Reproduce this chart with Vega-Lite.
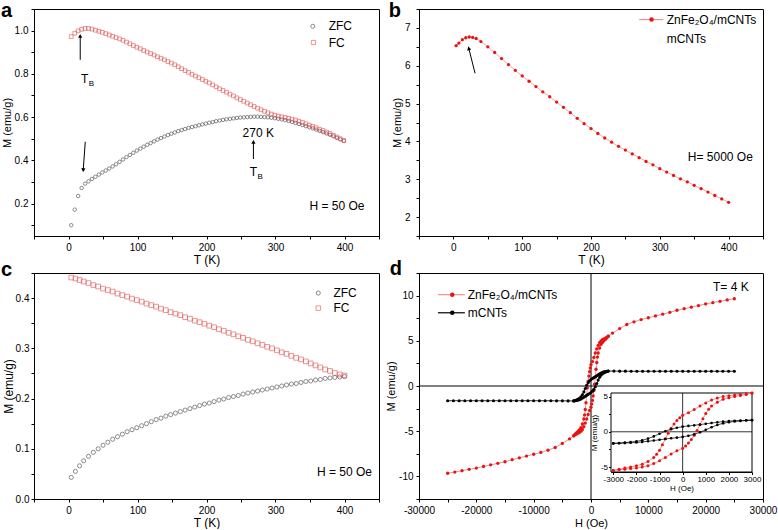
{
"$schema": "https://vega.github.io/schema/vega-lite/v6.json",
"background": "white",
"padding": {"left": 0, "top": 0, "right": 0, "bottom": 0},
"config": {
 "font": "Liberation Sans",
 "view": {"stroke": "#000", "strokeWidth": 1},
 "axis": {"grid": false, "domainColor": "#000", "tickColor": "#000", "labelColor": "#000", "titleColor": "#000", "labelFontSize": 10, "titleFontSize": 12, "titleFontWeight": "normal", "tickSize": 3, "labelPadding": 3, "titlePadding": 2, "labelFlush": false, "labelOverlap": false, "tickCount": 100},
 "text": {"font": "Liberation Sans", "fontSize": 12, "color": "#000"},
 "locale": {"number": {"decimal": ".", "thousands": ",", "grouping": [3], "currency": ["$", ""], "minus": "-"}}
},
"datasets": {
 "a": [
{"T":4,"M":0.1,"s":"ZFC"},{"T":9,"M":0.172,"s":"ZFC"},{"T":14,"M":0.235,"s":"ZFC"},{"T":19,"M":0.272,"s":"ZFC"},{"T":24,"M":0.292,"s":"ZFC"},{"T":29,"M":0.303,"s":"ZFC"},{"T":34,"M":0.314,"s":"ZFC"},{"T":39,"M":0.324,"s":"ZFC"},{"T":44,"M":0.334,"s":"ZFC"},{"T":49,"M":0.344,"s":"ZFC"},{"T":54,"M":0.353,"s":"ZFC"},{"T":59,"M":0.362,"s":"ZFC"},{"T":64,"M":0.372,"s":"ZFC"},{"T":69,"M":0.382,"s":"ZFC"},{"T":74,"M":0.393,"s":"ZFC"},{"T":79,"M":0.404,"s":"ZFC"},{"T":84,"M":0.415,"s":"ZFC"},{"T":89,"M":0.425,"s":"ZFC"},{"T":94,"M":0.435,"s":"ZFC"},{"T":99,"M":0.445,"s":"ZFC"},{"T":104,"M":0.454,"s":"ZFC"},{"T":109,"M":0.463,"s":"ZFC"},{"T":114,"M":0.472,"s":"ZFC"},{"T":119,"M":0.48,"s":"ZFC"},{"T":124,"M":0.488,"s":"ZFC"},{"T":129,"M":0.496,"s":"ZFC"},{"T":134,"M":0.503,"s":"ZFC"},{"T":139,"M":0.51,"s":"ZFC"},{"T":144,"M":0.517,"s":"ZFC"},{"T":149,"M":0.523,"s":"ZFC"},{"T":154,"M":0.529,"s":"ZFC"},{"T":159,"M":0.535,"s":"ZFC"},{"T":164,"M":0.54,"s":"ZFC"},{"T":169,"M":0.545,"s":"ZFC"},{"T":174,"M":0.55,"s":"ZFC"},{"T":179,"M":0.554,"s":"ZFC"},{"T":184,"M":0.558,"s":"ZFC"},{"T":189,"M":0.562,"s":"ZFC"},{"T":194,"M":0.566,"s":"ZFC"},{"T":199,"M":0.57,"s":"ZFC"},{"T":204,"M":0.574,"s":"ZFC"},{"T":209,"M":0.577,"s":"ZFC"},{"T":214,"M":0.581,"s":"ZFC"},{"T":219,"M":0.584,"s":"ZFC"},{"T":224,"M":0.587,"s":"ZFC"},{"T":229,"M":0.59,"s":"ZFC"},{"T":234,"M":0.592,"s":"ZFC"},{"T":239,"M":0.594,"s":"ZFC"},{"T":244,"M":0.596,"s":"ZFC"},{"T":249,"M":0.598,"s":"ZFC"},{"T":254,"M":0.599,"s":"ZFC"},{"T":259,"M":0.6,"s":"ZFC"},{"T":264,"M":0.601,"s":"ZFC"},{"T":269,"M":0.602,"s":"ZFC"},{"T":274,"M":0.602,"s":"ZFC"},{"T":279,"M":0.601,"s":"ZFC"},{"T":284,"M":0.6,"s":"ZFC"},{"T":289,"M":0.599,"s":"ZFC"},{"T":294,"M":0.597,"s":"ZFC"},{"T":299,"M":0.595,"s":"ZFC"},{"T":304,"M":0.592,"s":"ZFC"},{"T":309,"M":0.589,"s":"ZFC"},{"T":314,"M":0.586,"s":"ZFC"},{"T":319,"M":0.582,"s":"ZFC"},{"T":324,"M":0.578,"s":"ZFC"},{"T":329,"M":0.573,"s":"ZFC"},{"T":334,"M":0.568,"s":"ZFC"},{"T":339,"M":0.563,"s":"ZFC"},{"T":344,"M":0.558,"s":"ZFC"},{"T":349,"M":0.553,"s":"ZFC"},{"T":354,"M":0.548,"s":"ZFC"},{"T":359,"M":0.542,"s":"ZFC"},{"T":364,"M":0.536,"s":"ZFC"},{"T":369,"M":0.53,"s":"ZFC"},{"T":374,"M":0.524,"s":"ZFC"},{"T":379,"M":0.518,"s":"ZFC"},{"T":384,"M":0.511,"s":"ZFC"},{"T":389,"M":0.504,"s":"ZFC"},{"T":394,"M":0.497,"s":"ZFC"},{"T":399,"M":0.49,"s":"ZFC"},
{"T":4,"M":0.972,"s":"FC"},{"T":9,"M":0.988,"s":"FC"},{"T":14,"M":0.999,"s":"FC"},{"T":19,"M":1.006,"s":"FC"},{"T":24,"M":1.01,"s":"FC"},{"T":29,"M":1.01,"s":"FC"},{"T":34,"M":1.007,"s":"FC"},{"T":39,"M":1.002,"s":"FC"},{"T":44,"M":0.997,"s":"FC"},{"T":49,"M":0.992,"s":"FC"},{"T":54,"M":0.986,"s":"FC"},{"T":59,"M":0.98,"s":"FC"},{"T":64,"M":0.974,"s":"FC"},{"T":69,"M":0.968,"s":"FC"},{"T":74,"M":0.962,"s":"FC"},{"T":79,"M":0.955,"s":"FC"},{"T":84,"M":0.947,"s":"FC"},{"T":89,"M":0.939,"s":"FC"},{"T":94,"M":0.931,"s":"FC"},{"T":99,"M":0.923,"s":"FC"},{"T":104,"M":0.916,"s":"FC"},{"T":109,"M":0.908,"s":"FC"},{"T":114,"M":0.901,"s":"FC"},{"T":119,"M":0.894,"s":"FC"},{"T":124,"M":0.887,"s":"FC"},{"T":129,"M":0.879,"s":"FC"},{"T":134,"M":0.872,"s":"FC"},{"T":139,"M":0.865,"s":"FC"},{"T":144,"M":0.857,"s":"FC"},{"T":149,"M":0.85,"s":"FC"},{"T":154,"M":0.842,"s":"FC"},{"T":159,"M":0.833,"s":"FC"},{"T":164,"M":0.824,"s":"FC"},{"T":169,"M":0.815,"s":"FC"},{"T":174,"M":0.807,"s":"FC"},{"T":179,"M":0.798,"s":"FC"},{"T":184,"M":0.79,"s":"FC"},{"T":189,"M":0.782,"s":"FC"},{"T":194,"M":0.774,"s":"FC"},{"T":199,"M":0.766,"s":"FC"},{"T":204,"M":0.758,"s":"FC"},{"T":209,"M":0.749,"s":"FC"},{"T":214,"M":0.74,"s":"FC"},{"T":219,"M":0.731,"s":"FC"},{"T":224,"M":0.723,"s":"FC"},{"T":229,"M":0.715,"s":"FC"},{"T":234,"M":0.706,"s":"FC"},{"T":239,"M":0.698,"s":"FC"},{"T":244,"M":0.689,"s":"FC"},{"T":249,"M":0.681,"s":"FC"},{"T":254,"M":0.673,"s":"FC"},{"T":259,"M":0.665,"s":"FC"},{"T":264,"M":0.657,"s":"FC"},{"T":269,"M":0.649,"s":"FC"},{"T":274,"M":0.641,"s":"FC"},{"T":279,"M":0.634,"s":"FC"},{"T":284,"M":0.627,"s":"FC"},{"T":289,"M":0.62,"s":"FC"},{"T":294,"M":0.614,"s":"FC"},{"T":299,"M":0.609,"s":"FC"},{"T":304,"M":0.605,"s":"FC"},{"T":309,"M":0.601,"s":"FC"},{"T":314,"M":0.598,"s":"FC"},{"T":319,"M":0.594,"s":"FC"},{"T":324,"M":0.59,"s":"FC"},{"T":329,"M":0.586,"s":"FC"},{"T":334,"M":0.581,"s":"FC"},{"T":339,"M":0.575,"s":"FC"},{"T":344,"M":0.569,"s":"FC"},{"T":349,"M":0.563,"s":"FC"},{"T":354,"M":0.557,"s":"FC"},{"T":359,"M":0.551,"s":"FC"},{"T":364,"M":0.544,"s":"FC"},{"T":369,"M":0.538,"s":"FC"},{"T":374,"M":0.531,"s":"FC"},{"T":379,"M":0.524,"s":"FC"},{"T":384,"M":0.516,"s":"FC"},{"T":389,"M":0.508,"s":"FC"},{"T":394,"M":0.5,"s":"FC"},{"T":399,"M":0.492,"s":"FC"}
 ],
 "b": [
{"T":4,"M":6.53},{"T":8,"M":6.6},{"T":13,"M":6.69},{"T":18,"M":6.74},{"T":23,"M":6.76},{"T":28,"M":6.75},{"T":33,"M":6.72},{"T":40,"M":6.64},{"T":50,"M":6.5},{"T":60,"M":6.35},{"T":70,"M":6.19},{"T":80,"M":6.03},{"T":90,"M":5.88},{"T":100,"M":5.73},{"T":110,"M":5.59},{"T":120,"M":5.45},{"T":130,"M":5.31},{"T":140,"M":5.18},{"T":150,"M":5.04},{"T":160,"M":4.9},{"T":170,"M":4.76},{"T":180,"M":4.61},{"T":190,"M":4.47},{"T":200,"M":4.34},{"T":210,"M":4.21},{"T":220,"M":4.09},{"T":230,"M":3.98},{"T":240,"M":3.87},{"T":250,"M":3.77},{"T":260,"M":3.67},{"T":270,"M":3.57},{"T":280,"M":3.47},{"T":290,"M":3.38},{"T":300,"M":3.28},{"T":310,"M":3.19},{"T":320,"M":3.1},{"T":330,"M":3.01},{"T":340,"M":2.93},{"T":350,"M":2.84},{"T":360,"M":2.75},{"T":370,"M":2.66},{"T":380,"M":2.57},{"T":390,"M":2.48},{"T":400,"M":2.39}
 ],
 "c": [
{"T":4,"M":0.043,"s":"ZFC"},{"T":10,"M":0.055,"s":"ZFC"},{"T":16,"M":0.066,"s":"ZFC"},{"T":22,"M":0.076,"s":"ZFC"},{"T":29,"M":0.085,"s":"ZFC"},{"T":36,"M":0.093,"s":"ZFC"},{"T":43,"M":0.1,"s":"ZFC"},{"T":50,"M":0.107,"s":"ZFC"},{"T":57,"M":0.113,"s":"ZFC"},{"T":64,"M":0.119,"s":"ZFC"},{"T":71,"M":0.124,"s":"ZFC"},{"T":78,"M":0.129,"s":"ZFC"},{"T":85,"M":0.134,"s":"ZFC"},{"T":92,"M":0.138,"s":"ZFC"},{"T":99,"M":0.142,"s":"ZFC"},{"T":106,"M":0.146,"s":"ZFC"},{"T":113,"M":0.15,"s":"ZFC"},{"T":120,"M":0.154,"s":"ZFC"},{"T":127,"M":0.158,"s":"ZFC"},{"T":134,"M":0.161,"s":"ZFC"},{"T":141,"M":0.165,"s":"ZFC"},{"T":148,"M":0.168,"s":"ZFC"},{"T":155,"M":0.171,"s":"ZFC"},{"T":162,"M":0.174,"s":"ZFC"},{"T":169,"M":0.177,"s":"ZFC"},{"T":176,"M":0.18,"s":"ZFC"},{"T":183,"M":0.183,"s":"ZFC"},{"T":190,"M":0.186,"s":"ZFC"},{"T":197,"M":0.189,"s":"ZFC"},{"T":204,"M":0.191,"s":"ZFC"},{"T":211,"M":0.194,"s":"ZFC"},{"T":218,"M":0.197,"s":"ZFC"},{"T":225,"M":0.199,"s":"ZFC"},{"T":232,"M":0.202,"s":"ZFC"},{"T":239,"M":0.204,"s":"ZFC"},{"T":246,"M":0.206,"s":"ZFC"},{"T":253,"M":0.209,"s":"ZFC"},{"T":260,"M":0.211,"s":"ZFC"},{"T":267,"M":0.213,"s":"ZFC"},{"T":274,"M":0.215,"s":"ZFC"},{"T":281,"M":0.217,"s":"ZFC"},{"T":288,"M":0.219,"s":"ZFC"},{"T":295,"M":0.221,"s":"ZFC"},{"T":302,"M":0.223,"s":"ZFC"},{"T":309,"M":0.225,"s":"ZFC"},{"T":316,"M":0.227,"s":"ZFC"},{"T":323,"M":0.229,"s":"ZFC"},{"T":330,"M":0.23,"s":"ZFC"},{"T":337,"M":0.232,"s":"ZFC"},{"T":344,"M":0.234,"s":"ZFC"},{"T":351,"M":0.235,"s":"ZFC"},{"T":358,"M":0.237,"s":"ZFC"},{"T":365,"M":0.238,"s":"ZFC"},{"T":372,"M":0.24,"s":"ZFC"},{"T":379,"M":0.241,"s":"ZFC"},{"T":386,"M":0.242,"s":"ZFC"},{"T":393,"M":0.243,"s":"ZFC"},{"T":400,"M":0.244,"s":"ZFC"},
{"T":4,"M":0.441,"s":"FC"},{"T":10,"M":0.439,"s":"FC"},{"T":16,"M":0.436,"s":"FC"},{"T":22,"M":0.433,"s":"FC"},{"T":29,"M":0.43,"s":"FC"},{"T":36,"M":0.426,"s":"FC"},{"T":43,"M":0.423,"s":"FC"},{"T":50,"M":0.419,"s":"FC"},{"T":57,"M":0.416,"s":"FC"},{"T":64,"M":0.413,"s":"FC"},{"T":71,"M":0.409,"s":"FC"},{"T":78,"M":0.406,"s":"FC"},{"T":85,"M":0.403,"s":"FC"},{"T":92,"M":0.399,"s":"FC"},{"T":99,"M":0.396,"s":"FC"},{"T":106,"M":0.393,"s":"FC"},{"T":113,"M":0.389,"s":"FC"},{"T":120,"M":0.386,"s":"FC"},{"T":127,"M":0.383,"s":"FC"},{"T":134,"M":0.379,"s":"FC"},{"T":141,"M":0.376,"s":"FC"},{"T":148,"M":0.372,"s":"FC"},{"T":155,"M":0.369,"s":"FC"},{"T":162,"M":0.366,"s":"FC"},{"T":169,"M":0.362,"s":"FC"},{"T":176,"M":0.359,"s":"FC"},{"T":183,"M":0.355,"s":"FC"},{"T":190,"M":0.352,"s":"FC"},{"T":197,"M":0.349,"s":"FC"},{"T":204,"M":0.345,"s":"FC"},{"T":211,"M":0.342,"s":"FC"},{"T":218,"M":0.338,"s":"FC"},{"T":225,"M":0.335,"s":"FC"},{"T":232,"M":0.331,"s":"FC"},{"T":239,"M":0.328,"s":"FC"},{"T":246,"M":0.324,"s":"FC"},{"T":253,"M":0.321,"s":"FC"},{"T":260,"M":0.317,"s":"FC"},{"T":267,"M":0.314,"s":"FC"},{"T":274,"M":0.31,"s":"FC"},{"T":281,"M":0.307,"s":"FC"},{"T":288,"M":0.303,"s":"FC"},{"T":295,"M":0.3,"s":"FC"},{"T":302,"M":0.296,"s":"FC"},{"T":309,"M":0.292,"s":"FC"},{"T":316,"M":0.289,"s":"FC"},{"T":323,"M":0.285,"s":"FC"},{"T":330,"M":0.281,"s":"FC"},{"T":337,"M":0.278,"s":"FC"},{"T":344,"M":0.274,"s":"FC"},{"T":351,"M":0.27,"s":"FC"},{"T":358,"M":0.266,"s":"FC"},{"T":365,"M":0.262,"s":"FC"},{"T":372,"M":0.258,"s":"FC"},{"T":379,"M":0.255,"s":"FC"},{"T":386,"M":0.251,"s":"FC"},{"T":393,"M":0.248,"s":"FC"},{"T":400,"M":0.246,"s":"FC"}
 ],
 "d": [
{"H":25000,"M":9.65,"s":"ZnFe2O4","b":"down"},{"H":23750,"M":9.52,"s":"ZnFe2O4","b":"down"},{"H":22500,"M":9.37,"s":"ZnFe2O4","b":"down"},{"H":21250,"M":9.22,"s":"ZnFe2O4","b":"down"},{"H":20000,"M":9.08,"s":"ZnFe2O4","b":"down"},{"H":18750,"M":8.9,"s":"ZnFe2O4","b":"down"},{"H":17500,"M":8.72,"s":"ZnFe2O4","b":"down"},{"H":16250,"M":8.55,"s":"ZnFe2O4","b":"down"},{"H":15000,"M":8.38,"s":"ZnFe2O4","b":"down"},{"H":13750,"M":8.15,"s":"ZnFe2O4","b":"down"},{"H":12500,"M":7.95,"s":"ZnFe2O4","b":"down"},{"H":11250,"M":7.75,"s":"ZnFe2O4","b":"down"},{"H":10000,"M":7.55,"s":"ZnFe2O4","b":"down"},{"H":8750,"M":7.35,"s":"ZnFe2O4","b":"down"},{"H":7500,"M":7.1,"s":"ZnFe2O4","b":"down"},{"H":6250,"M":6.8,"s":"ZnFe2O4","b":"down"},{"H":5000,"M":6.35,"s":"ZnFe2O4","b":"down"},{"H":3750,"M":5.85,"s":"ZnFe2O4","b":"down"},
{"H":3000,"M":5.5,"s":"ZnFe2O4","b":"down"},{"H":2750,"M":5.38,"s":"ZnFe2O4","b":"down"},{"H":2500,"M":5.3,"s":"ZnFe2O4","b":"down"},{"H":2250,"M":5.22,"s":"ZnFe2O4","b":"down"},{"H":2000,"M":5.12,"s":"ZnFe2O4","b":"down"},{"H":1750,"M":5.0,"s":"ZnFe2O4","b":"down"},{"H":1500,"M":4.8,"s":"ZnFe2O4","b":"down"},{"H":1250,"M":4.5,"s":"ZnFe2O4","b":"down"},{"H":1000,"M":4.1,"s":"ZnFe2O4","b":"down"},{"H":750,"M":3.65,"s":"ZnFe2O4","b":"down"},{"H":500,"M":3.15,"s":"ZnFe2O4","b":"down"},{"H":250,"M":2.7,"s":"ZnFe2O4","b":"down"},{"H":0,"M":2.35,"s":"ZnFe2O4","b":"down"},{"H":-125,"M":2.0,"s":"ZnFe2O4","b":"down"},{"H":-250,"M":1.6,"s":"ZnFe2O4","b":"down"},{"H":-375,"M":1.1,"s":"ZnFe2O4","b":"down"},{"H":-500,"M":0.5,"s":"ZnFe2O4","b":"down"},{"H":-625,"M":-0.2,"s":"ZnFe2O4","b":"down"},{"H":-750,"M":-1.0,"s":"ZnFe2O4","b":"down"},{"H":-875,"M":-1.85,"s":"ZnFe2O4","b":"down"},{"H":-1000,"M":-2.6,"s":"ZnFe2O4","b":"down"},{"H":-1125,"M":-3.2,"s":"ZnFe2O4","b":"down"},{"H":-1250,"M":-3.65,"s":"ZnFe2O4","b":"down"},{"H":-1500,"M":-4.2,"s":"ZnFe2O4","b":"down"},{"H":-1750,"M":-4.6,"s":"ZnFe2O4","b":"down"},{"H":-2000,"M":-4.82,"s":"ZnFe2O4","b":"down"},{"H":-2250,"M":-5.0,"s":"ZnFe2O4","b":"down"},{"H":-2500,"M":-5.15,"s":"ZnFe2O4","b":"down"},{"H":-2750,"M":-5.3,"s":"ZnFe2O4","b":"down"},{"H":-3000,"M":-5.5,"s":"ZnFe2O4","b":"down"},
{"H":-3750,"M":-5.85,"s":"ZnFe2O4","b":"down"},{"H":-5000,"M":-6.35,"s":"ZnFe2O4","b":"down"},{"H":-6250,"M":-6.8,"s":"ZnFe2O4","b":"down"},{"H":-7500,"M":-7.1,"s":"ZnFe2O4","b":"down"},{"H":-8750,"M":-7.35,"s":"ZnFe2O4","b":"down"},{"H":-10000,"M":-7.55,"s":"ZnFe2O4","b":"down"},{"H":-11250,"M":-7.75,"s":"ZnFe2O4","b":"down"},{"H":-12500,"M":-7.95,"s":"ZnFe2O4","b":"down"},{"H":-13750,"M":-8.15,"s":"ZnFe2O4","b":"down"},{"H":-15000,"M":-8.38,"s":"ZnFe2O4","b":"down"},{"H":-16250,"M":-8.55,"s":"ZnFe2O4","b":"down"},{"H":-17500,"M":-8.72,"s":"ZnFe2O4","b":"down"},{"H":-18750,"M":-8.9,"s":"ZnFe2O4","b":"down"},{"H":-20000,"M":-9.08,"s":"ZnFe2O4","b":"down"},{"H":-21250,"M":-9.22,"s":"ZnFe2O4","b":"down"},{"H":-22500,"M":-9.37,"s":"ZnFe2O4","b":"down"},{"H":-23750,"M":-9.52,"s":"ZnFe2O4","b":"down"},{"H":-25000,"M":-9.65,"s":"ZnFe2O4","b":"down"},
{"H":-3000,"M":-5.5,"s":"ZnFe2O4","b":"up"},{"H":-2750,"M":-5.38,"s":"ZnFe2O4","b":"up"},{"H":-2500,"M":-5.3,"s":"ZnFe2O4","b":"up"},{"H":-2250,"M":-5.22,"s":"ZnFe2O4","b":"up"},{"H":-2000,"M":-5.12,"s":"ZnFe2O4","b":"up"},{"H":-1750,"M":-5.0,"s":"ZnFe2O4","b":"up"},{"H":-1500,"M":-4.8,"s":"ZnFe2O4","b":"up"},{"H":-1250,"M":-4.5,"s":"ZnFe2O4","b":"up"},{"H":-1000,"M":-4.1,"s":"ZnFe2O4","b":"up"},{"H":-750,"M":-3.65,"s":"ZnFe2O4","b":"up"},{"H":-500,"M":-3.15,"s":"ZnFe2O4","b":"up"},{"H":-250,"M":-2.7,"s":"ZnFe2O4","b":"up"},{"H":0,"M":-2.35,"s":"ZnFe2O4","b":"up"},{"H":125,"M":-2.0,"s":"ZnFe2O4","b":"up"},{"H":250,"M":-1.6,"s":"ZnFe2O4","b":"up"},{"H":375,"M":-1.1,"s":"ZnFe2O4","b":"up"},{"H":500,"M":-0.5,"s":"ZnFe2O4","b":"up"},{"H":625,"M":0.2,"s":"ZnFe2O4","b":"up"},{"H":750,"M":1.0,"s":"ZnFe2O4","b":"up"},{"H":875,"M":1.85,"s":"ZnFe2O4","b":"up"},{"H":1000,"M":2.6,"s":"ZnFe2O4","b":"up"},{"H":1125,"M":3.2,"s":"ZnFe2O4","b":"up"},{"H":1250,"M":3.65,"s":"ZnFe2O4","b":"up"},{"H":1500,"M":4.2,"s":"ZnFe2O4","b":"up"},{"H":1750,"M":4.6,"s":"ZnFe2O4","b":"up"},{"H":2000,"M":4.82,"s":"ZnFe2O4","b":"up"},{"H":2250,"M":5.0,"s":"ZnFe2O4","b":"up"},{"H":2500,"M":5.15,"s":"ZnFe2O4","b":"up"},{"H":2750,"M":5.3,"s":"ZnFe2O4","b":"up"},{"H":3000,"M":5.5,"s":"ZnFe2O4","b":"up"},
{"H":25000,"M":1.63,"s":"mCNTs","b":"down"},{"H":24000,"M":1.63,"s":"mCNTs","b":"down"},{"H":23000,"M":1.63,"s":"mCNTs","b":"down"},{"H":22000,"M":1.63,"s":"mCNTs","b":"down"},{"H":21000,"M":1.63,"s":"mCNTs","b":"down"},{"H":20000,"M":1.63,"s":"mCNTs","b":"down"},{"H":19000,"M":1.63,"s":"mCNTs","b":"down"},{"H":18000,"M":1.63,"s":"mCNTs","b":"down"},{"H":17000,"M":1.63,"s":"mCNTs","b":"down"},{"H":16000,"M":1.63,"s":"mCNTs","b":"down"},{"H":15000,"M":1.63,"s":"mCNTs","b":"down"},{"H":14000,"M":1.63,"s":"mCNTs","b":"down"},{"H":13000,"M":1.63,"s":"mCNTs","b":"down"},{"H":12000,"M":1.63,"s":"mCNTs","b":"down"},{"H":11000,"M":1.63,"s":"mCNTs","b":"down"},{"H":10000,"M":1.63,"s":"mCNTs","b":"down"},{"H":9000,"M":1.63,"s":"mCNTs","b":"down"},{"H":8000,"M":1.63,"s":"mCNTs","b":"down"},{"H":7000,"M":1.63,"s":"mCNTs","b":"down"},{"H":6000,"M":1.64,"s":"mCNTs","b":"down"},{"H":5000,"M":1.64,"s":"mCNTs","b":"down"},{"H":4000,"M":1.65,"s":"mCNTs","b":"down"},
{"H":3000,"M":1.65,"s":"mCNTs","b":"down"},{"H":2750,"M":1.63,"s":"mCNTs","b":"down"},{"H":2500,"M":1.6,"s":"mCNTs","b":"down"},{"H":2250,"M":1.56,"s":"mCNTs","b":"down"},{"H":2000,"M":1.52,"s":"mCNTs","b":"down"},{"H":1750,"M":1.44,"s":"mCNTs","b":"down"},{"H":1500,"M":1.34,"s":"mCNTs","b":"down"},{"H":1250,"M":1.24,"s":"mCNTs","b":"down"},{"H":1000,"M":1.13,"s":"mCNTs","b":"down"},{"H":750,"M":1.02,"s":"mCNTs","b":"down"},{"H":500,"M":0.92,"s":"mCNTs","b":"down"},{"H":250,"M":0.83,"s":"mCNTs","b":"down"},{"H":0,"M":0.73,"s":"mCNTs","b":"down"},{"H":-250,"M":0.57,"s":"mCNTs","b":"down"},{"H":-500,"M":0.36,"s":"mCNTs","b":"down"},{"H":-750,"M":0.08,"s":"mCNTs","b":"down"},{"H":-1000,"M":-0.28,"s":"mCNTs","b":"down"},{"H":-1250,"M":-0.65,"s":"mCNTs","b":"down"},{"H":-1500,"M":-0.97,"s":"mCNTs","b":"down"},{"H":-1750,"M":-1.2,"s":"mCNTs","b":"down"},{"H":-2000,"M":-1.36,"s":"mCNTs","b":"down"},{"H":-2250,"M":-1.46,"s":"mCNTs","b":"down"},{"H":-2500,"M":-1.53,"s":"mCNTs","b":"down"},{"H":-2750,"M":-1.6,"s":"mCNTs","b":"down"},{"H":-3000,"M":-1.65,"s":"mCNTs","b":"down"},
{"H":-4000,"M":-1.65,"s":"mCNTs","b":"down"},{"H":-5000,"M":-1.64,"s":"mCNTs","b":"down"},{"H":-6000,"M":-1.64,"s":"mCNTs","b":"down"},{"H":-7000,"M":-1.63,"s":"mCNTs","b":"down"},{"H":-8000,"M":-1.63,"s":"mCNTs","b":"down"},{"H":-9000,"M":-1.63,"s":"mCNTs","b":"down"},{"H":-10000,"M":-1.63,"s":"mCNTs","b":"down"},{"H":-11000,"M":-1.63,"s":"mCNTs","b":"down"},{"H":-12000,"M":-1.63,"s":"mCNTs","b":"down"},{"H":-13000,"M":-1.63,"s":"mCNTs","b":"down"},{"H":-14000,"M":-1.63,"s":"mCNTs","b":"down"},{"H":-15000,"M":-1.63,"s":"mCNTs","b":"down"},{"H":-16000,"M":-1.63,"s":"mCNTs","b":"down"},{"H":-17000,"M":-1.63,"s":"mCNTs","b":"down"},{"H":-18000,"M":-1.63,"s":"mCNTs","b":"down"},{"H":-19000,"M":-1.63,"s":"mCNTs","b":"down"},{"H":-20000,"M":-1.63,"s":"mCNTs","b":"down"},{"H":-21000,"M":-1.63,"s":"mCNTs","b":"down"},{"H":-22000,"M":-1.63,"s":"mCNTs","b":"down"},{"H":-23000,"M":-1.63,"s":"mCNTs","b":"down"},{"H":-24000,"M":-1.63,"s":"mCNTs","b":"down"},{"H":-25000,"M":-1.63,"s":"mCNTs","b":"down"},
{"H":-3000,"M":-1.65,"s":"mCNTs","b":"up"},{"H":-2750,"M":-1.63,"s":"mCNTs","b":"up"},{"H":-2500,"M":-1.6,"s":"mCNTs","b":"up"},{"H":-2250,"M":-1.56,"s":"mCNTs","b":"up"},{"H":-2000,"M":-1.52,"s":"mCNTs","b":"up"},{"H":-1750,"M":-1.44,"s":"mCNTs","b":"up"},{"H":-1500,"M":-1.34,"s":"mCNTs","b":"up"},{"H":-1250,"M":-1.24,"s":"mCNTs","b":"up"},{"H":-1000,"M":-1.13,"s":"mCNTs","b":"up"},{"H":-750,"M":-1.02,"s":"mCNTs","b":"up"},{"H":-500,"M":-0.92,"s":"mCNTs","b":"up"},{"H":-250,"M":-0.83,"s":"mCNTs","b":"up"},{"H":0,"M":-0.73,"s":"mCNTs","b":"up"},{"H":250,"M":-0.57,"s":"mCNTs","b":"up"},{"H":500,"M":-0.36,"s":"mCNTs","b":"up"},{"H":750,"M":-0.08,"s":"mCNTs","b":"up"},{"H":1000,"M":0.28,"s":"mCNTs","b":"up"},{"H":1250,"M":0.65,"s":"mCNTs","b":"up"},{"H":1500,"M":0.97,"s":"mCNTs","b":"up"},{"H":1750,"M":1.2,"s":"mCNTs","b":"up"},{"H":2000,"M":1.36,"s":"mCNTs","b":"up"},{"H":2250,"M":1.46,"s":"mCNTs","b":"up"},{"H":2500,"M":1.53,"s":"mCNTs","b":"up"},{"H":2750,"M":1.6,"s":"mCNTs","b":"up"},{"H":3000,"M":1.65,"s":"mCNTs","b":"up"}
 ]
},
"columns": 2,
"spacing": {"row": 37, "column": 40},
"bounds": "flush",
"concat": [
 {
  "width": 345, "height": 227,
  "layer": [
   {"data": {"name": "a"}, "transform": [{"filter": "datum.s === 'ZFC'"}],
    "mark": {"type": "point", "shape": "circle", "filled": false, "color": "#333333", "strokeWidth": 0.8, "size": 12},
    "encoding": {
     "x": {"field": "T", "type": "quantitative", "scale": {"domain": [-50, 450], "nice": false, "zero": false}, "axis": {"title": "T (K)", "tickCount": 100, "values": [-50,0,50,100,150,200,250,300,350,400,450], "labelExpr": "datum.value % 100 === 0 ? datum.label : ''"}},
     "y": {"field": "M", "type": "quantitative", "scale": {"domain": [0.05, 1.1], "nice": false, "zero": false}, "axis": {"title": "M (emu/g)", "titleFontSize": 11, "tickCount": 100, "values": [0.1,0.2,0.3,0.4,0.5,0.6,0.7,0.8,0.9,1.0,1.1], "format": ".1f", "labelExpr": "round(datum.value*10) % 2 === 0 ? datum.label : ''"}}
    }},
   {"data": {"name": "a"}, "transform": [{"filter": "datum.s === 'FC'"}],
    "mark": {"type": "point", "shape": "square", "filled": false, "color": "#e04444", "strokeWidth": 0.8, "size": 14},
    "encoding": {"x": {"field": "T", "type": "quantitative"}, "y": {"field": "M", "type": "quantitative"}}},
   {"data": {"values": [{"T": 354, "M": 1.02}]},
    "mark": {"type": "point", "shape": "circle", "filled": false, "color": "#333333", "strokeWidth": 0.8, "size": 16},
    "encoding": {"x": {"field": "T", "type": "quantitative"}, "y": {"field": "M", "type": "quantitative"}}},
   {"data": {"values": [{"T": 355, "M": 0.945}]},
    "mark": {"type": "point", "shape": "square", "filled": false, "color": "#e04444", "strokeWidth": 0.8, "size": 18},
    "encoding": {"x": {"field": "T", "type": "quantitative"}, "y": {"field": "M", "type": "quantitative"}}},
   {"data": {"values": [{"T": 377, "M": 1.02, "t": "ZFC"}, {"T": 377, "M": 0.945, "t": "FC"}]},
    "mark": {"type": "text", "align": "left", "baseline": "middle", "fontSize": 12},
    "encoding": {"x": {"field": "T", "type": "quantitative"}, "y": {"field": "M", "type": "quantitative"}, "text": {"field": "t"}}},
   {"data": {"values": [{"T": 17, "M": 0.865, "T2": 17, "M2": 0.98}, {"T": 268, "M": 0.406, "T2": 268, "M2": 0.49}, {"T": 24.3, "M": 0.486, "T2": 21.2, "M2": 0.35}]},
    "mark": {"type": "rule", "color": "#000", "strokeWidth": 1},
    "encoding": {"x": {"field": "T", "type": "quantitative"}, "y": {"field": "M", "type": "quantitative"}, "x2": {"field": "T2"}, "y2": {"field": "M2"}}},
   {"data": {"values": [{"T": 17, "M": 0.975}, {"T": 268, "M": 0.485}]},
    "mark": {"type": "point", "shape": "triangle-up", "filled": true, "color": "#000", "size": 18, "opacity": 1},
    "encoding": {"x": {"field": "T", "type": "quantitative"}, "y": {"field": "M", "type": "quantitative"}}},
   {"data": {"values": [{"T": 21.4, "M": 0.355}]},
    "mark": {"type": "point", "shape": "triangle-down", "filled": true, "color": "#000", "size": 18, "angle": 4, "opacity": 1},
    "encoding": {"x": {"field": "T", "type": "quantitative"}, "y": {"field": "M", "type": "quantitative"}}},
   {"data": {"values": [{"T": 23.6, "M": 0.774, "t": "T"}, {"T": 268, "M": 0.347, "t": "T"}, {"T": 275, "M": 0.528, "t": "270 K"}, {"T": 389, "M": 0.19, "t": "H = 50 Oe"}]},
    "mark": {"type": "text", "align": "center", "baseline": "middle", "fontSize": 12},
    "encoding": {"x": {"field": "T", "type": "quantitative"}, "y": {"field": "M", "type": "quantitative"}, "text": {"field": "t"}}},
   {"data": {"values": [{"T": 23.6, "M": 0.774}, {"T": 268, "M": 0.347}]},
    "mark": {"type": "text", "text": "B", "align": "left", "baseline": "middle", "fontSize": 8, "dx": 4, "dy": 5},
    "encoding": {"x": {"field": "T", "type": "quantitative"}, "y": {"field": "M", "type": "quantitative"}}},
   {"data": {"values": [{"T": -97.8, "M": 1.063, "t": "a"}]},
    "mark": {"type": "text", "align": "left", "baseline": "alphabetic", "fontSize": 20, "fontWeight": "bold"},
    "encoding": {"x": {"field": "T", "type": "quantitative"}, "y": {"field": "M", "type": "quantitative"}, "text": {"field": "t"}}}
  ]
 },
 {
  "width": 344, "height": 227,
  "layer": [
   {"data": {"name": "b"},
    "mark": {"type": "line", "color": "#f6a6a6", "strokeWidth": 1},
    "encoding": {
     "x": {"field": "T", "type": "quantitative", "scale": {"domain": [-50, 450], "nice": false, "zero": false}, "axis": {"title": "T (K)", "tickCount": 100, "values": [-50,0,50,100,150,200,250,300,350,400,450], "labelExpr": "datum.value % 100 === 0 ? datum.label : ''"}},
     "y": {"field": "M", "type": "quantitative", "scale": {"domain": [1.5, 7.5], "nice": false, "zero": false}, "axis": {"title": "M (emu/g)", "titleFontSize": 11, "labelPadding": 6, "tickCount": 100, "values": [1.5,2,2.5,3,3.5,4,4.5,5,5.5,6,6.5,7,7.5], "format": ".0f", "labelExpr": "datum.value % 1 === 0 ? datum.label : ''"}}
    }},
   {"data": {"name": "b"},
    "mark": {"type": "point", "shape": "circle", "filled": true, "color": "#e81414", "size": 11, "opacity": 1},
    "encoding": {"x": {"field": "T", "type": "quantitative"}, "y": {"field": "M", "type": "quantitative"}}},
   {"data": {"values": [{"T": 270, "T2": 305, "M": 7.22}]},
    "mark": {"type": "rule", "color": "#f39090", "strokeWidth": 1.2},
    "encoding": {"x": {"field": "T", "type": "quantitative"}, "x2": {"field": "T2"}, "y": {"field": "M", "type": "quantitative"}}},
   {"data": {"values": [{"T": 288, "M": 7.22}]},
    "mark": {"type": "point", "shape": "circle", "filled": true, "color": "#e81414", "size": 20, "opacity": 1},
    "encoding": {"x": {"field": "T", "type": "quantitative"}, "y": {"field": "M", "type": "quantitative"}}},
   {"data": {"values": [{"T": 310, "M": 7.22, "t": "ZnFe₂O₄/mCNTs"}, {"T": 310, "M": 6.71, "t": "mCNTs"}]},
    "mark": {"type": "text", "align": "left", "baseline": "middle", "fontSize": 12},
    "encoding": {"x": {"field": "T", "type": "quantitative"}, "y": {"field": "M", "type": "quantitative"}, "text": {"field": "t"}}},
   {"data": {"values": [{"T": 31.5, "M": 5.8, "T2": 21.8, "M2": 6.5}]},
    "mark": {"type": "rule", "color": "#000", "strokeWidth": 1},
    "encoding": {"x": {"field": "T", "type": "quantitative"}, "y": {"field": "M", "type": "quantitative"}, "x2": {"field": "T2"}, "y2": {"field": "M2"}}},
   {"data": {"values": [{"T": 22.3, "M": 6.46}]},
    "mark": {"type": "point", "shape": "triangle-up", "filled": true, "color": "#000", "size": 18, "angle": -15, "opacity": 1},
    "encoding": {"x": {"field": "T", "type": "quantitative"}, "y": {"field": "M", "type": "quantitative"}}},
   {"data": {"values": [{"T": 388, "M": 3.6, "t": "H= 5000 Oe"}]},
    "mark": {"type": "text", "align": "center", "baseline": "middle", "fontSize": 12},
    "encoding": {"x": {"field": "T", "type": "quantitative"}, "y": {"field": "M", "type": "quantitative"}, "text": {"field": "t"}}},
   {"data": {"values": [{"T": -93.9, "M": 7.289, "t": "b"}]},
    "mark": {"type": "text", "align": "left", "baseline": "alphabetic", "fontSize": 20, "fontWeight": "bold"},
    "encoding": {"x": {"field": "T", "type": "quantitative"}, "y": {"field": "M", "type": "quantitative"}, "text": {"field": "t"}}}
  ]
 },
 {
  "width": 345, "height": 226,
  "layer": [
   {"data": {"name": "c"}, "transform": [{"filter": "datum.s === 'ZFC'"}],
    "mark": {"type": "point", "shape": "circle", "filled": false, "color": "#333333", "strokeWidth": 0.8, "size": 17},
    "encoding": {
     "x": {"field": "T", "type": "quantitative", "scale": {"domain": [-50, 450], "nice": false, "zero": false}, "axis": {"title": "T (K)", "tickCount": 100, "values": [-50,0,50,100,150,200,250,300,350,400,450], "labelExpr": "datum.value % 100 === 0 ? datum.label : ''"}},
     "y": {"field": "M", "type": "quantitative", "scale": {"domain": [0, 0.45], "nice": false, "zero": false}, "axis": {"title": "M (emu/g)", "titleFontSize": 12, "labelPadding": 2, "titlePadding": 0, "tickCount": 100, "values": [0,0.05,0.1,0.15,0.2,0.25,0.3,0.35,0.4,0.45], "format": ".1f", "labelExpr": "round(datum.value*100) % 10 === 0 ? datum.label : ''"}}
    }},
   {"data": {"name": "c"}, "transform": [{"filter": "datum.s === 'FC'"}],
    "mark": {"type": "point", "shape": "square", "filled": false, "color": "#e04444", "strokeWidth": 0.8, "size": 22},
    "encoding": {"x": {"field": "T", "type": "quantitative"}, "y": {"field": "M", "type": "quantitative"}}},
   {"data": {"values": [{"T": 362, "M": 0.41}]},
    "mark": {"type": "point", "shape": "circle", "filled": false, "color": "#333333", "strokeWidth": 0.8, "size": 17},
    "encoding": {"x": {"field": "T", "type": "quantitative"}, "y": {"field": "M", "type": "quantitative"}}},
   {"data": {"values": [{"T": 362, "M": 0.38}]},
    "mark": {"type": "point", "shape": "square", "filled": false, "color": "#e04444", "strokeWidth": 0.8, "size": 20},
    "encoding": {"x": {"field": "T", "type": "quantitative"}, "y": {"field": "M", "type": "quantitative"}}},
   {"data": {"values": [{"T": 384, "M": 0.41, "t": "ZFC"}, {"T": 384, "M": 0.38, "t": "FC"}]},
    "mark": {"type": "text", "align": "left", "baseline": "middle", "fontSize": 12},
    "encoding": {"x": {"field": "T", "type": "quantitative"}, "y": {"field": "M", "type": "quantitative"}, "text": {"field": "t"}}},
   {"data": {"values": [{"T": 400, "M": 0.054, "t": "H = 50 Oe"}]},
    "mark": {"type": "text", "align": "center", "baseline": "middle", "fontSize": 12},
    "encoding": {"x": {"field": "T", "type": "quantitative"}, "y": {"field": "M", "type": "quantitative"}, "text": {"field": "t"}}},
   {"data": {"values": [{"T": -97.8, "M": 0.4434, "t": "c"}]},
    "mark": {"type": "text", "align": "left", "baseline": "alphabetic", "fontSize": 20, "fontWeight": "bold"},
    "encoding": {"x": {"field": "T", "type": "quantitative"}, "y": {"field": "M", "type": "quantitative"}, "text": {"field": "t"}}}
  ]
 },
 {
  "width": 344, "height": 226,
  "resolve": {"scale": {"x": "independent", "y": "independent"}},
  "layer": [
   {"layer": [
    {"data": {"values": [{"H": 0}]},
     "mark": {"type": "rule", "color": "#000", "strokeWidth": 1},
     "encoding": {"x": {"field": "H", "type": "quantitative", "scale": {"domain": [-30000, 30000], "nice": false, "zero": false}, "axis": {"title": "H (Oe)", "titleFontSize": 11, "tickCount": 100, "values": [-30000,-25000,-20000,-15000,-10000,-5000,0,5000,10000,15000,20000,25000,30000], "format": "d", "labelExpr": "datum.value % 10000 === 0 ? datum.label : ''"}}}},
    {"data": {"values": [{"M": 0}]},
     "mark": {"type": "rule", "color": "#000", "strokeWidth": 1},
     "encoding": {"y": {"field": "M", "type": "quantitative", "scale": {"domain": [-12.5, 12.5], "nice": false, "zero": false}, "axis": {"title": "M (emu/g)", "titleFontSize": 11, "tickCount": 100, "values": [-12.5,-10,-7.5,-5,-2.5,0,2.5,5,7.5,10,12.5], "format": ".0f", "labelExpr": "datum.value % 5 === 0 ? datum.label : ''"}}}},
    {"data": {"name": "d"}, "transform": [{"filter": "datum.s === 'ZnFe2O4'"}],
     "mark": {"type": "line", "color": "#f39090", "strokeWidth": 1},
     "encoding": {"x": {"field": "H", "type": "quantitative"}, "y": {"field": "M", "type": "quantitative"}, "detail": {"field": "b"}}},
    {"data": {"name": "d"}, "transform": [{"filter": "datum.s === 'ZnFe2O4'"}],
     "mark": {"type": "point", "shape": "circle", "filled": true, "color": "#e81414", "size": 11, "opacity": 1},
     "encoding": {"x": {"field": "H", "type": "quantitative"}, "y": {"field": "M", "type": "quantitative"}}},
    {"data": {"name": "d"}, "transform": [{"filter": "datum.s === 'mCNTs'"}],
     "mark": {"type": "line", "color": "#000", "strokeWidth": 0.8},
     "encoding": {"x": {"field": "H", "type": "quantitative"}, "y": {"field": "M", "type": "quantitative"}, "detail": {"field": "b"}}},
    {"data": {"name": "d"}, "transform": [{"filter": "datum.s === 'mCNTs'"}],
     "mark": {"type": "point", "shape": "circle", "filled": true, "color": "#000", "size": 10, "opacity": 1},
     "encoding": {"x": {"field": "H", "type": "quantitative"}, "y": {"field": "M", "type": "quantitative"}}},
    {"data": {"values": [{"H": -26700, "H2": -22000, "M": 10.1}]},
     "mark": {"type": "rule", "color": "#f39090", "strokeWidth": 1.2},
     "encoding": {"x": {"field": "H", "type": "quantitative"}, "x2": {"field": "H2"}, "y": {"field": "M", "type": "quantitative"}}},
    {"data": {"values": [{"H": -26700, "H2": -22000, "M": 8.1}]},
     "mark": {"type": "rule", "color": "#000", "strokeWidth": 1.2},
     "encoding": {"x": {"field": "H", "type": "quantitative"}, "x2": {"field": "H2"}, "y": {"field": "M", "type": "quantitative"}}},
    {"data": {"values": [{"H": -24200, "M": 10.1}]},
     "mark": {"type": "point", "shape": "circle", "filled": true, "color": "#e81414", "size": 20, "opacity": 1},
     "encoding": {"x": {"field": "H", "type": "quantitative"}, "y": {"field": "M", "type": "quantitative"}}},
    {"data": {"values": [{"H": -24200, "M": 8.1}]},
     "mark": {"type": "point", "shape": "circle", "filled": true, "color": "#000", "size": 20, "opacity": 1},
     "encoding": {"x": {"field": "H", "type": "quantitative"}, "y": {"field": "M", "type": "quantitative"}}},
    {"data": {"values": [{"H": -21500, "M": 10.1, "t": "ZnFe₂O₄/mCNTs"}, {"H": -21500, "M": 8.1, "t": "mCNTs"}]},
     "mark": {"type": "text", "align": "left", "baseline": "middle", "fontSize": 12},
     "encoding": {"x": {"field": "H", "type": "quantitative"}, "y": {"field": "M", "type": "quantitative"}, "text": {"field": "t"}}},
    {"data": {"values": [{"H": 27500, "M": 11.0, "t": "T= 4 K"}]},
     "mark": {"type": "text", "align": "right", "baseline": "middle", "fontSize": 12},
     "encoding": {"x": {"field": "H", "type": "quantitative"}, "y": {"field": "M", "type": "quantitative"}, "text": {"field": "t"}}},
    {"data": {"values": [{"H": -35110, "M": 12.25, "t": "d"}]},
     "mark": {"type": "text", "align": "left", "baseline": "alphabetic", "fontSize": 20, "fontWeight": "bold"},
     "encoding": {"x": {"field": "H", "type": "quantitative"}, "y": {"field": "M", "type": "quantitative"}, "text": {"field": "t"}}}
   ]},
   {"layer": [
    {"data": {"values": [{"H": -3100, "H2": 3000, "M": -5.7, "M2": 5.5}]},
     "mark": {"type": "rect", "fill": "#ffffff", "stroke": "#000", "strokeWidth": 1},
     "encoding": {
      "x": {"field": "H", "type": "quantitative", "scale": {"domain": [-3100, 3000], "range": [192, 333], "nice": false, "zero": false}, "axis": {"orient": "bottom", "offset": -27, "title": "H (Oe)", "tickCount": 100, "values": [-3000,-2000,-1000,0,1000,2000,3000], "format": "d", "labelFontSize": 8, "titleFontSize": 8, "tickSize": 2.5, "labelPadding": 1, "titlePadding": 1}},
      "x2": {"field": "H2"},
      "y": {"field": "M", "type": "quantitative", "scale": {"domain": [-5.7, 5.5], "range": [199, 120], "nice": false, "zero": false}, "axis": {"orient": "left", "offset": -192, "title": "M (emu/g)", "tickCount": 100, "values": [-5,-2.5,0,2.5,5], "format": ".0f", "labelExpr": "datum.value % 5 === 0 ? datum.label : ''", "labelFontSize": 8, "titleFontSize": 8, "tickSize": 2.5, "labelPadding": 1, "titlePadding": 2}},
      "y2": {"field": "M2"}
     }},
    {"data": {"values": [{"H": 0, "M": -5.7, "M2": 5.5}]},
     "mark": {"type": "rule", "color": "#000", "strokeWidth": 0.8},
     "encoding": {"x": {"field": "H", "type": "quantitative"}, "y": {"field": "M", "type": "quantitative"}, "y2": {"field": "M2"}}},
    {"data": {"values": [{"H": -3100, "H2": 3000, "M": 0}]},
     "mark": {"type": "rule", "color": "#000", "strokeWidth": 0.8},
     "encoding": {"x": {"field": "H", "type": "quantitative"}, "x2": {"field": "H2"}, "y": {"field": "M", "type": "quantitative"}}},
    {"data": {"name": "d"}, "transform": [{"filter": "datum.s === 'ZnFe2O4' && abs(datum.H) <= 3000"}],
     "mark": {"type": "line", "color": "#f39090", "strokeWidth": 1},
     "encoding": {"x": {"field": "H", "type": "quantitative"}, "y": {"field": "M", "type": "quantitative"}, "detail": {"field": "b"}}},
    {"data": {"name": "d"}, "transform": [{"filter": "datum.s === 'ZnFe2O4' && abs(datum.H) <= 3000"}],
     "mark": {"type": "point", "shape": "circle", "filled": true, "color": "#e81414", "size": 9, "opacity": 1},
     "encoding": {"x": {"field": "H", "type": "quantitative"}, "y": {"field": "M", "type": "quantitative"}}},
    {"data": {"name": "d"}, "transform": [{"filter": "datum.s === 'mCNTs' && abs(datum.H) <= 3000"}],
     "mark": {"type": "line", "color": "#000", "strokeWidth": 0.7},
     "encoding": {"x": {"field": "H", "type": "quantitative"}, "y": {"field": "M", "type": "quantitative"}, "detail": {"field": "b"}}},
    {"data": {"name": "d"}, "transform": [{"filter": "datum.s === 'mCNTs' && abs(datum.H) <= 3000"}],
     "mark": {"type": "point", "shape": "circle", "filled": true, "color": "#000", "size": 7, "opacity": 1},
     "encoding": {"x": {"field": "H", "type": "quantitative"}, "y": {"field": "M", "type": "quantitative"}}}
   ]}
  ]
 }
]
}
